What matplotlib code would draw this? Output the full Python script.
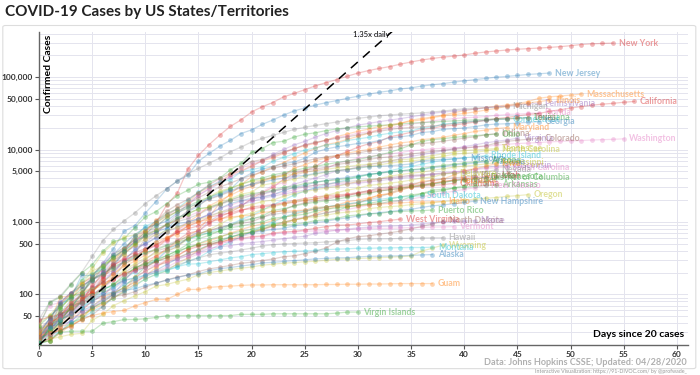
import matplotlib.pyplot as plt
from matplotlib.patches import FancyBboxPatch
from matplotlib.ticker import FixedLocator, LogLocator, NullFormatter

plt.rcParams['font.family'] = ['Lato', 'DejaVu Sans']

# confirmed cases per day, counted from the first day with 20+ cases
new_york = [23, 33, 76, 106, 142, 173, 220, 328, 421, 525, 732, 967, 1706, 2495, 5365, 8310, 11710, 15800, 20884, 25681, 33066, 38987, 44635, 53363, 59568, 67174, 75833, 83948, 92506, 102987, 113833, 123160, 131815, 139875, 151061, 161779, 172348, 181026, 189033, 195031, 202208, 213779, 222284, 229642, 236732, 242786, 247512, 251690, 257216, 263460, 271590, 282143, 288045, 291996, 295106]
new_jersey = [23, 29, 50, 69, 98, 178, 267, 427, 742, 890, 1327, 1914, 2844, 3675, 4402, 6876, 8825, 11124, 13386, 16636, 18696, 22255, 25590, 29895, 34124, 37505, 41090, 44416, 47437, 51027, 54588, 58151, 61850, 64584, 68824, 71030, 75317, 78467, 81420, 85301, 88806, 92387, 95865, 99989, 102196, 105498, 109038, 111188, 113856]
massachusetts = [28, 41, 92, 95, 108, 123, 138, 164, 197, 218, 256, 328, 413, 525, 646, 777, 1159, 1838, 2417, 3240, 4257, 4955, 5752, 6620, 7738, 8966, 10402, 11736, 12500, 13837, 15202, 16790, 18941, 20974, 22860, 25475, 26867, 28163, 29918, 32181, 34402, 36372, 38077, 39643, 41199, 42944, 46023, 50969, 53348, 54938, 56462, 58302]
california = [21, 25, 35, 51, 59, 81, 95, 133, 157, 221, 282, 340, 426, 557, 698, 751, 952, 1177, 1364, 1642, 2108, 2538, 2998, 3899, 4657, 5095, 5852, 7138, 8210, 9399, 10773, 12004, 12837, 15034, 16019, 17351, 18897, 19710, 21081, 21706, 22795, 23931, 25356, 26686, 27677, 29157, 30491, 31431, 33686, 35396, 37344, 39254, 40927, 42368, 43464, 44966, 46164]
washington = [39, 70, 78, 102, 122, 178, 267, 366, 442, 568, 642, 769, 904, 1076, 1187, 1376, 1524, 1793, 1996, 2221, 2328, 2591, 3207, 3477, 4311, 4896, 5179, 5432, 6389, 6966, 7591, 7984, 8384, 8682, 9097, 9608, 9887, 10224, 10411, 10538, 10694, 10799, 11057, 11517, 11802, 12114, 12282, 12494, 12753, 12977, 13176, 13319, 13521, 13686, 13842, 14070]
michigan = [45, 78, 95, 140, 200, 334, 549, 787, 1035, 1328, 1791, 2294, 2877, 3657, 4650, 5486, 6498, 7615, 9334, 10791, 12744, 14225, 15718, 17221, 18970, 20346, 21504, 22783, 23993, 25635, 27001, 28059, 29263, 30023, 30791, 31424, 32000, 32967, 33966, 35291, 36641, 37203, 37778, 38210, 39262]
pennsylvania = [22, 41, 47, 66, 77, 112, 152, 206, 303, 396, 509, 698, 946, 1260, 1795, 2345, 2845, 3432, 4155, 4963, 5805, 7016, 8570, 10017, 11589, 12980, 14853, 16631, 18300, 19979, 21719, 22938, 24292, 25465, 26753, 28258, 29888, 31652, 32902, 33914, 35249, 36082, 37645, 39050, 40208, 41683, 42616, 43713]
illinois = [25, 32, 46, 64, 93, 105, 161, 288, 422, 585, 753, 1049, 1285, 1537, 1865, 2538, 3024, 3491, 4596, 5057, 5994, 6980, 7695, 8904, 10357, 11256, 12262, 13549, 15078, 16422, 17887, 19180, 20852, 22025, 23247, 24593, 25733, 27575, 29160, 30357, 31513, 33059, 35108, 36934, 39658, 41777, 43903, 45883, 48102]
florida = [28, 35, 50, 76, 100, 155, 216, 314, 417, 563, 659, 830, 1171, 1412, 1682, 2355, 2900, 3763, 4246, 5473, 6338, 6955, 8010, 9008, 10268, 11545, 12350, 13324, 14747, 15456, 16826, 17531, 18494, 19895, 21019, 22511, 23340, 24759, 25996, 26660, 27495, 27869, 28576, 29648, 30533, 30839, 31528, 32138]
louisiana = [36, 77, 91, 136, 196, 257, 392, 538, 585, 837, 1172, 1388, 1795, 2305, 2746, 3315, 3540, 4025, 5237, 6424, 9150, 10297, 12496, 13010, 14867, 16284, 17030, 18283, 19253, 20014, 20595, 21016, 21518, 21951, 22532, 23118, 23580, 23928, 24523, 24854, 25258, 25739, 26140, 26512, 26773, 27068, 27286]
connecticut = [26, 41, 68, 96, 159, 194, 223, 327, 415, 618, 875, 1012, 1291, 1524, 1993, 2571, 3128, 3557, 3824, 4914, 5276, 5675, 6906, 7781, 8781, 9784, 10538, 11510, 12035, 13381, 13989, 14755, 15884, 16809, 17550, 17962, 19815, 20360, 22469, 23100, 23921, 24582, 25269, 25997, 26312]
georgia = [22, 31, 42, 66, 99, 121, 146, 199, 287, 420, 507, 600, 800, 1097, 1387, 1643, 2198, 2446, 2808, 3929, 4748, 5348, 5831, 6383, 6742, 7558, 9156, 10189, 10885, 11483, 12159, 12452, 13315, 14578, 14987, 15669, 17194, 17669, 18947, 19407, 19881, 20740, 21883, 22491, 22695, 23222, 23773, 24302]
texas = [27, 39, 57, 72, 85, 110, 173, 260, 394, 643, 757, 1031, 1396, 1731, 2052, 2552, 3266, 3997, 4669, 5734, 6812, 7276, 8262, 9353, 10230, 11671, 12561, 13484, 14275, 15006, 15907, 16876, 17849, 18923, 19751, 20196, 20574, 21069, 21944, 22806, 23773, 24631, 25297, 26171, 26357, 27054, 27658]
maryland = [26, 32, 41, 57, 85, 107, 149, 190, 244, 288, 349, 423, 580, 774, 992, 1239, 1660, 1985, 2331, 2758, 3125, 3609, 4045, 4371, 5529, 6185, 6968, 7694, 8225, 8936, 9472, 10032, 10784, 11572, 12326, 12830, 13684, 14193, 14775, 15737, 16616, 17766, 18581, 19487, 20113]
indiana = [24, 30, 39, 56, 79, 126, 201, 259, 365, 477, 645, 981, 1232, 1514, 1786, 2159, 2565, 3039, 3437, 3953, 4411, 4944, 5507, 5943, 6351, 6907, 7435, 7928, 8236, 8527, 8955, 9542, 10154, 10641, 11210, 11688, 12097, 12438, 13039, 13680, 14395, 15012, 15961, 16588]
ohio = [37, 50, 67, 88, 119, 169, 247, 351, 442, 564, 704, 867, 1137, 1406, 1653, 1933, 2199, 2547, 2902, 3312, 3739, 4043, 4450, 4782, 5148, 5512, 5836, 6250, 6604, 6975, 7285, 7794, 8414, 9107, 10222, 11602, 12919, 13725, 14117, 14694, 15169, 15587, 15963, 16325]
virginia = [20, 25, 30, 45, 51, 67, 77, 99, 152, 219, 254, 290, 391, 460, 604, 739, 1020, 1250, 1484, 1706, 2012, 2407, 2637, 2878, 3333, 3645, 4042, 4509, 5077, 5274, 5747, 6182, 6500, 6889, 7491, 8053, 8537, 8990, 9630, 10266, 10998, 11594, 12366, 12970, 13535, 14339]
colorado = [33, 45, 72, 101, 131, 160, 183, 216, 277, 363, 591, 720, 912, 1086, 1430, 1734, 2061, 2307, 2627, 2966, 3342, 3728, 4173, 4565, 4950, 5172, 5429, 5655, 6202, 6513, 6893, 7303, 7691, 7941, 8280, 8675, 9047, 9433, 9730, 10106, 10447, 10878, 11262, 12256, 12968, 13441, 13879, 14316]
north_carolina = [33, 38, 64, 92, 137, 184, 255, 301, 353, 495, 636, 763, 935, 1040, 1307, 1498, 1584, 1857, 2093, 2402, 2585, 3221, 3426, 3651, 3908, 4312, 4570, 4886, 5123, 5340, 5636, 5859, 6140, 6493, 6764, 6951, 7220, 7608, 8052, 8623, 8830, 9142, 9568, 10052]
tennessee = [39, 52, 74, 98, 154, 228, 371, 505, 615, 667, 784, 957, 1203, 1373, 1537, 1834, 2239, 2683, 2933, 3321, 3633, 3802, 4139, 4362, 4634, 4862, 5114, 5308, 5610, 5827, 6079, 6262, 6589, 7070, 7238, 7394, 7842, 8266, 8726, 9189, 9667, 9918, 10052, 10366]
rhode_island = [23, 33, 44, 54, 66, 83, 106, 124, 165, 203, 239, 294, 408, 488, 566, 657, 711, 806, 922, 1082, 1229, 1450, 1727, 2015, 2349, 2665, 2976, 3251, 3529, 3838, 4177, 4491, 4706, 5090, 5500, 5841, 6256, 6699, 7129, 7439, 7708, 7926, 8247]
missouri = [28, 47, 73, 90, 183, 183, 255, 356, 502, 670, 838, 903, 1031, 1327, 1581, 1834, 2113, 2367, 2722, 3037, 3327, 3539, 3799, 4024, 4269, 4388, 4686, 4895, 5111, 5283, 5517, 5807, 5890, 5963, 6137, 6321, 6997, 7171, 7303, 7425, 7562]
wisconsin = [27, 33, 47, 72, 106, 155, 206, 282, 381, 457, 481, 621, 729, 841, 989, 1112, 1230, 1351, 1550, 1730, 1912, 2112, 2267, 2440, 2578, 2756, 2885, 3068, 3213, 3341, 3428, 3555, 3721, 3875, 4045, 4199, 4346, 4499, 4620, 4845, 5052, 5356, 5687, 5911, 6081]
south_carolina = [28, 33, 47, 60, 81, 125, 173, 195, 298, 342, 424, 456, 539, 774, 925, 1083, 1293, 1554, 1700, 1917, 2049, 2232, 2417, 2552, 2792, 3065, 3207, 3319, 3391, 3439, 3553, 3656, 3931, 4086, 4246, 4377, 4439, 4608, 4761, 4917, 5070, 5253, 5490, 5613, 5735]
alabama = [29, 46, 78, 106, 131, 157, 196, 242, 386, 538, 639, 720, 827, 947, 999, 1108, 1270, 1535, 1796, 1968, 2119, 2197, 2369, 2703, 3008, 3217, 3525, 3734, 3953, 4113, 4345, 4571, 4712, 4888, 5079, 5231, 5317, 5593, 5832, 6137, 6270, 6539, 6750]
mississippi = [21, 34, 50, 80, 140, 207, 249, 320, 377, 485, 579, 663, 759, 847, 937, 1073, 1177, 1358, 1455, 1638, 1738, 1915, 2003, 2260, 2469, 2642, 2781, 2942, 3087, 3360, 3624, 3793, 3974, 4274, 4512, 4716, 4894, 5153, 5434, 5718, 5911, 6094, 6342, 6569]
arizona = [20, 27, 44, 65, 104, 152, 235, 326, 401, 508, 665, 773, 919, 1157, 1289, 1530, 1598, 1769, 2019, 2269, 2456, 2575, 2726, 3018, 3112, 3393, 3542, 3705, 3806, 3964, 4234, 4511, 4724, 4929, 5064, 5251, 5459, 5772, 6045, 6280, 6526, 6716, 6955]
iowa = [22, 23, 29, 38, 44, 68, 90, 105, 124, 145, 179, 235, 298, 336, 424, 497, 549, 614, 699, 786, 868, 946, 1048, 1145, 1270, 1388, 1510, 1587, 1710, 1899, 1995, 2141, 2332, 2513, 2902, 3159, 3641, 3748, 3924, 4445, 5092, 5476, 5868, 6376]
utah = [29, 39, 51, 64, 78, 136, 181, 257, 298, 346, 402, 480, 602, 719, 806, 887, 1012, 1074, 1255, 1428, 1605, 1675, 1738, 1846, 1976, 2103, 2206, 2303, 2363, 2417, 2548, 2683, 2805, 2931, 3069, 3213, 3296, 3445, 3612, 3782, 3948, 4123, 4233, 4343]
minnesota = [21, 35, 54, 60, 77, 89, 115, 138, 169, 235, 262, 287, 346, 398, 441, 503, 576, 629, 689, 742, 789, 865, 935, 986, 1069, 1154, 1242, 1336, 1427, 1621, 1695, 1809, 1912, 2071, 2213, 2356, 2470, 2567, 2721, 2942, 3185, 3446, 3602, 4181]
kentucky = [26, 35, 47, 63, 87, 99, 124, 163, 198, 248, 302, 394, 439, 480, 591, 680, 770, 831, 917, 955, 1008, 1149, 1346, 1452, 1693, 1840, 1963, 2048, 2210, 2291, 2522, 2707, 2960, 3050, 3192, 3373, 3481, 3779, 3905, 4074, 4146, 4375]
oklahoma = [44, 49, 53, 67, 81, 106, 164, 248, 322, 377, 429, 481, 565, 719, 879, 988, 1159, 1252, 1327, 1472, 1524, 1600, 1684, 1794, 1868, 1970, 2069, 2184, 2263, 2357, 2465, 2570, 2680, 2807, 2894, 3017, 3121, 3193, 3280, 3410]
kansas = [21, 34, 44, 55, 82, 98, 126, 168, 261, 319, 368, 428, 482, 552, 629, 698, 747, 845, 900, 1046, 1116, 1166, 1268, 1337, 1376, 1440, 1494, 1588, 1705, 1791, 1849, 2025, 2211, 2482, 2776, 3056, 3174, 3328, 3491, 3738, 3898]
nebraska = [24, 27, 38, 50, 52, 61, 73, 89, 108, 172, 210, 246, 279, 321, 367, 400, 478, 519, 573, 650, 727, 791, 871, 952, 1066, 1138, 1287, 1474, 1648, 1722, 1813, 2101, 2353, 2421, 2732, 3028, 3184, 3374, 3609, 3785]
arkansas = [22, 33, 62, 96, 100, 165, 192, 232, 280, 335, 381, 409, 473, 523, 584, 643, 704, 743, 837, 875, 946, 1000, 1119, 1171, 1228, 1280, 1410, 1498, 1569, 1620, 1695, 1744, 1781, 1923, 1973, 2227, 2465, 2741, 2829, 2917, 3017, 3127, 3192, 3255]
nevada = [21, 45, 55, 83, 109, 161, 190, 245, 278, 321, 420, 535, 738, 1008, 1113, 1279, 1514, 1742, 1953, 2087, 2318, 2456, 2700, 2836, 2971, 3088, 3211, 3321, 3524, 3626, 3728, 3830, 3937, 4081, 4208, 4398, 4450, 4602, 4690, 4744, 4805, 4830, 4934, 5227]
district_of_columbia = [22, 31, 40, 71, 77, 98, 116, 137, 183, 231, 267, 304, 342, 401, 495, 586, 653, 757, 902, 998, 1097, 1211, 1440, 1523, 1660, 1778, 1875, 1955, 2058, 2197, 2350, 2476, 2666, 2793, 2927, 3098, 3206, 3361, 3528, 3699, 3841, 3892, 4106]
delaware = [30, 39, 45, 68, 104, 119, 130, 165, 214, 264, 319, 368, 393, 450, 593, 673, 783, 928, 1116, 1209, 1326, 1479, 1625, 1761, 1926, 2014, 2070, 2323, 2538, 2745, 2931, 3200, 3308, 3442, 3576, 3789, 4034, 4162, 4575, 4734]
new_mexico = [23, 28, 35, 43, 57, 65, 83, 100, 112, 136, 191, 208, 237, 281, 315, 363, 403, 495, 543, 624, 686, 794, 865, 989, 1091, 1174, 1245, 1345, 1407, 1484, 1597, 1711, 1798, 1845, 1971, 2072, 2210, 2379, 2521, 2660, 2823, 2974, 3213]
oregon = [30, 32, 36, 39, 47, 65, 75, 88, 114, 137, 161, 191, 209, 266, 316, 414, 479, 548, 606, 690, 736, 826, 899, 999, 1068, 1132, 1181, 1239, 1321, 1371, 1414, 1527, 1584, 1633, 1663, 1736, 1785, 1844, 1910, 1957, 2002, 2059, 2127, 2177, 2253, 2311, 2385]
south_dakota = [21, 28, 30, 41, 46, 58, 68, 90, 108, 129, 165, 187, 212, 240, 288, 320, 393, 447, 536, 626, 730, 868, 988, 1168, 1311, 1411, 1542, 1635, 1685, 1755, 1858, 1956, 2040, 2147, 2212, 2245, 2313]
idaho = [31, 42, 47, 50, 68, 91, 123, 189, 261, 310, 415, 525, 617, 669, 891, 1013, 1077, 1101, 1170, 1210, 1232, 1354, 1396, 1407, 1426, 1464, 1587, 1609, 1655, 1668, 1672, 1736, 1766, 1802, 1836, 1870, 1887, 1897, 1917]
new_hampshire = [26, 39, 44, 55, 65, 78, 101, 108, 137, 158, 187, 214, 258, 314, 367, 415, 479, 540, 621, 669, 715, 747, 788, 819, 885, 929, 985, 1020, 1091, 1139, 1211, 1287, 1342, 1392, 1447, 1491, 1588, 1670, 1720, 1787, 1864, 1938]
puerto_rico = [21, 23, 31, 39, 51, 64, 79, 100, 127, 174, 239, 286, 316, 378, 452, 475, 513, 573, 620, 683, 725, 788, 897, 903, 923, 974, 1043, 1068, 1118, 1213, 1252, 1298, 1307, 1377, 1400, 1416, 1433, 1460]
west_virginia = [20, 39, 51, 76, 96, 113, 145, 162, 191, 217, 237, 282, 324, 345, 412, 462, 502, 523, 577, 593, 626, 640, 702, 728, 739, 775, 818, 863, 902, 908, 939, 981, 1010, 1053, 1095]
north_dakota = [26, 28, 32, 36, 45, 52, 68, 94, 98, 109, 126, 142, 159, 173, 186, 207, 225, 237, 251, 269, 278, 293, 308, 331, 341, 365, 393, 439, 528, 585, 627, 644, 679, 709, 748, 803, 867, 942, 1033]
maine = [32, 43, 52, 57, 70, 89, 107, 118, 155, 168, 211, 253, 275, 303, 344, 376, 432, 456, 470, 499, 519, 537, 560, 586, 616, 633, 698, 734, 770, 796, 827, 847, 867, 875, 888, 907, 937, 965, 990, 1015, 1023, 1040]
vermont = [22, 29, 49, 52, 75, 95, 123, 158, 184, 211, 235, 256, 293, 321, 338, 389, 461, 512, 543, 575, 605, 628, 679, 711, 727, 748, 752, 759, 768, 779, 803, 813, 816, 818, 825, 838, 843, 851, 855, 862]
hawaii = [26, 37, 48, 56, 77, 90, 95, 106, 120, 151, 175, 204, 224, 256, 285, 319, 351, 371, 387, 410, 435, 465, 486, 499, 504, 511, 517, 530, 541, 553, 574, 580, 584, 586, 592, 596, 601, 604, 606]
wyoming = [23, 24, 26, 28, 29, 44, 53, 70, 82, 95, 109, 130, 137, 150, 162, 187, 200, 210, 221, 230, 239, 253, 261, 270, 275, 282, 287, 296, 305, 309, 313, 317, 322, 326, 332, 339, 395, 435, 480]
montana = [21, 34, 45, 51, 65, 90, 121, 129, 154, 171, 184, 198, 217, 241, 262, 265, 281, 299, 319, 332, 354, 365, 377, 387, 394, 399, 404, 415, 421, 426, 433, 433, 437, 439, 442, 444, 444, 448]
alaska = [22, 36, 39, 42, 59, 69, 85, 102, 114, 119, 133, 143, 157, 171, 185, 191, 213, 226, 235, 246, 257, 272, 277, 285, 293, 300, 309, 314, 319, 321, 329, 335, 337, 339, 341, 345, 351, 355]
guam = [27, 29, 32, 37, 45, 51, 55, 58, 60, 69, 77, 85, 85, 100, 117, 117, 125, 128, 130, 133, 135, 135, 136, 136, 136, 136, 136, 137, 137, 138, 138, 139, 139, 140, 141, 141, 141, 141]
virgin_islands = [21, 23, 30, 31, 31, 31, 40, 42, 45, 45, 46, 48, 51, 51, 51, 51, 51, 51, 51, 53, 53, 53, 54, 54, 54, 54, 54, 54, 55, 57, 57]

names = ['New York', 'New Jersey', 'Massachusetts', 'California', 'Washington', 'Michigan',
         'Pennsylvania', 'Illinois', 'Florida', 'Louisiana', 'Connecticut', 'Georgia', 'Texas',
         'Maryland', 'Indiana', 'Ohio', 'Virginia', 'Colorado', 'North Carolina', 'Tennessee',
         'Rhode Island', 'Missouri', 'Wisconsin', 'South Carolina', 'Alabama', 'Mississippi',
         'Arizona', 'Iowa', 'Utah', 'Minnesota', 'Kentucky', 'Oklahoma', 'Kansas', 'Nebraska',
         'Arkansas', 'Nevada', 'District of Columbia', 'Delaware', 'New Mexico', 'Oregon',
         'South Dakota', 'Idaho', 'New Hampshire', 'Puerto Rico', 'West Virginia', 'North Dakota',
         'Maine', 'Vermont', 'Hawaii', 'Wyoming', 'Montana', 'Alaska', 'Guam', 'Virgin Islands']
series = [new_york, new_jersey, massachusetts, california, washington, michigan,
          pennsylvania, illinois, florida, louisiana, connecticut, georgia, texas,
          maryland, indiana, ohio, virginia, colorado, north_carolina, tennessee,
          rhode_island, missouri, wisconsin, south_carolina, alabama, mississippi,
          arizona, iowa, utah, minnesota, kentucky, oklahoma, kansas, nebraska,
          arkansas, nevada, district_of_columbia, delaware, new_mexico, oregon,
          south_dakota, idaho, new_hampshire, puerto_rico, west_virginia, north_dakota,
          maine, vermont, hawaii, wyoming, montana, alaska, guam, virgin_islands]

growth = 1.35
growth_days = [0, 33.3]

yticks = [50, 100, 500, 1000, 5000, 10000, 50000, 100000]

c10 = {'blue': '#1f77b4', 'orange': '#ff7f0e', 'green': '#2ca02c', 'red': '#d62728',
       'purple': '#9467bd', 'brown': '#8c564b', 'pink': '#e377c2', 'gray': '#7f7f7f',
       'olive': '#bcbd22', 'cyan': '#17becf'}
color_names = ['red', 'blue', 'orange', 'red', 'pink', 'gray',
               'purple', 'orange', 'pink', 'green', 'cyan', 'blue', 'brown',
               'orange', 'brown', 'green', 'purple', 'brown', 'olive', 'olive',
               'cyan', 'blue', 'purple', 'pink', 'blue', 'olive',
               'green', 'orange', 'red', 'green', 'brown', 'red', 'gray', 'orange',
               'green', 'gray', 'green', 'olive', 'pink', 'olive',
               'cyan', 'orange', 'blue', 'green', 'red', 'brown',
               'purple', 'pink', 'gray', 'olive', 'cyan', 'blue', 'orange', 'green']

fig = plt.figure(figsize=(7, 3.75), dpi=100)
frame = FancyBboxPatch((0.004, 0.017), 0.99, 0.915, boxstyle='round,pad=0,rounding_size=0.004',
                       transform=fig.transFigure, facecolor='white',
                       edgecolor='#dddddd', linewidth=0.8, zorder=-10)
fig.patches.append(frame)
ax = fig.add_axes([39 / 700, 1 - 345 / 375, (687.5 - 39) / 700, (345 - 32) / 375])
ax.set_facecolor('none')
ax.set_zorder(5)

for name, vals, cn in zip(names, series, color_names):
    col = c10[cn]
    days = list(range(len(vals)))
    ax.plot(days, vals, '-', color=col, alpha=0.25, lw=0.9, zorder=2)
    ax.plot(days, vals, 'o', color=col, alpha=0.33, ms=3.4, mew=0, zorder=3)
    ax.annotate(name, (days[-1], vals[-1]), xytext=(4, 0), textcoords='offset points',
                va='center', ha='left', fontsize=6.3, fontweight='bold', color=col, alpha=0.45)

gx = growth_days
gy = [20 * growth ** d for d in gx]
ax.plot(gx, gy, color='black', ls=(0, (6, 4.5)), lw=1.1, zorder=4)
ax.text(gx[1] - 0.3, 430000, '1.35x daily', fontsize=5.5, ha='right', va='top', color='black', zorder=5)

ax.set_yscale('log')
ax.set_ylim(20, 420000)
ax.set_xlim(0, 61)
ax.yaxis.set_major_locator(FixedLocator(yticks))
ax.set_yticklabels([f'{v:,}' for v in yticks])
ax.yaxis.set_minor_locator(LogLocator(base=10, subs=range(1, 10)))
ax.yaxis.set_minor_formatter(NullFormatter())
ax.set_xticks(range(0, 61, 5))
ax.grid(True, which='both', axis='y', color='#e4e4ee', lw=0.7, zorder=0)
ax.grid(True, which='major', axis='x', color='#e4e4ee', lw=0.7, zorder=0)
ax.tick_params(axis='y', which='minor', length=0)
ax.tick_params(axis='both', which='major', labelsize=6, length=3, width=0.8, color='#555555',
               labelcolor='#333333', pad=1.5)
for lab in ax.get_xticklabels() + ax.get_yticklabels():
    lab.set_fontweight('bold')
for s in ['top', 'right']:
    ax.spines[s].set_visible(False)
for s in ['left', 'bottom']:
    ax.spines[s].set_color('#666666')
    ax.spines[s].set_linewidth(1.0)

ax.text(0.008, 0.99, 'Confirmed Cases', transform=ax.transAxes, rotation=90, ha='left', va='top',
        fontsize=7.5, fontweight='bold', color='black')
ax.text(0.995, 0.02, 'Days since 20 cases', transform=ax.transAxes, ha='right', va='bottom',
        fontsize=7.5, fontweight='bold', color='black')

fig.text(0.007, 0.968, 'COVID-19 Cases by US States/Territories', fontsize=11, ha='left',
         va='center', color='#222222', fontweight='bold')
fig.text(0.981, 0.022, 'Data: Johns Hopkins CSSE; Updated: 04/28/2020', fontsize=6.6,
         ha='right', va='bottom', color='#b0b0b0', fontweight='bold')
fig.text(0.981, 0.004, 'Interactive Visualization: https://91-DIVOC.com/ by @profwade_', fontsize=3.8,
         ha='right', va='bottom', color='#999999')

fig.savefig('out.png', dpi=100)
